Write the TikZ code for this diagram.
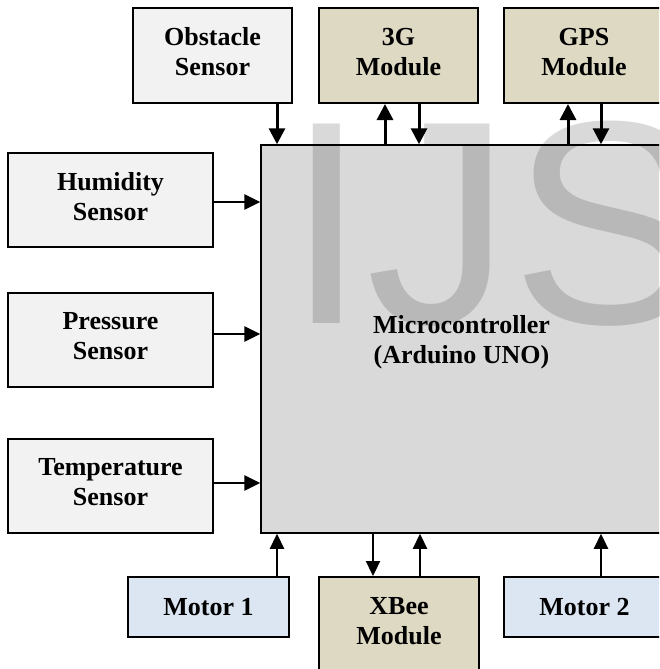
\documentclass[tikz,border=0pt]{standalone}
\usepackage{fontspec}
\setmainfont{Liberation Serif}
\newfontfamily\wmfont{Liberation Sans}
\usetikzlibrary{arrows.meta}
\definecolor{boxgray}{HTML}{F2F2F2}
\definecolor{boxtan}{HTML}{DDD9C3}
\definecolor{boxblue}{HTML}{DCE6F2}
\definecolor{mcgray}{HTML}{D9D9D9}
\tikzset{
  blk/.style={draw=black, line width=2pt, rectangle, align=center, inner sep=0pt,
    font=\bfseries\fontsize{26}{30}\selectfont, text depth=8pt},
  blk1/.style={draw=black, line width=2pt, rectangle, align=center, inner sep=0pt,
    font=\bfseries\fontsize{26}{30}\selectfont},
  arrT/.style={line width=3pt, -{Triangle[length=16pt,width=16pt]}},
  arrL/.style={line width=2.7pt, -{Triangle[length=16pt,width=15pt]}},
  arrB/.style={line width=2.3pt, -{Triangle[length=15pt,width=14pt]}}
}
\begin{document}
\begin{tikzpicture}[x=1pt,y=-1pt]
\useasboundingbox (0,0) rectangle (659,669);
\clip (0,0) rectangle (659,669);
\fill[white] (0,0) rectangle (659,669);
% top row
\node[blk, fill=boxgray, minimum width=159pt, minimum height=95pt] (obs) at (212.5,55.5) {Obstacle\\Sensor};
\node[blk, fill=boxtan, minimum width=159pt, minimum height=95pt] (g3) at (398.5,55.5) {3G\\Module};
\node[blk, fill=boxtan, minimum width=160pt, minimum height=95pt] (gps) at (584,55.5) {GPS\\Module};
% left column
\node[blk, fill=boxgray, minimum width=205pt, minimum height=94pt] (hum) at (110.5,200) {Humidity\\Sensor};
\node[blk, fill=boxgray, minimum width=205pt, minimum height=94pt] (pre) at (110.5,340) {Pressure\\Sensor};
\node[blk, fill=boxgray, minimum width=205pt, minimum height=94pt] (tem) at (110.5,486) {Temperature\\Sensor};
% microcontroller
\node[blk, line width=1.5pt, fill=mcgray, minimum width=401pt, minimum height=388pt, text depth=0pt] (mc) at (461.5,339) {Microcontroller\\(Arduino UNO)};
% bottom row
\node[blk1, fill=boxblue, minimum width=161pt, minimum height=60pt] (m1) at (208.5,607) {Motor 1};
\node[blk, fill=boxtan, minimum width=160pt, minimum height=95pt] (xb) at (399,624.5) {XBee\\Module};
\node[blk1, fill=boxblue, minimum width=161pt, minimum height=60pt] (m2) at (584.5,607) {Motor 2};
% top arrows
\draw[arrT] (277,0 |- obs.south) -- (277,0 |- mc.north);
\draw[arrT] (385,0 |- mc.north) -- (385,0 |- g3.south);
\draw[arrT] (419,0 |- g3.south) -- (419,0 |- mc.north);
\draw[arrT] (568,0 |- mc.north) -- (568,0 |- gps.south);
\draw[arrT] (601,0 |- gps.south) -- (601,0 |- mc.north);
% left arrows
\draw[arrL] (hum.east |- 0,202) -- (mc.west |- 0,202);
\draw[arrL] (pre.east |- 0,334) -- (mc.west |- 0,334);
\draw[arrL] (tem.east |- 0,483) -- (mc.west |- 0,483);
% bottom arrows
\draw[arrB] (277,0 |- m1.north) -- (277,0 |- mc.south);
\draw[arrB] (373,0 |- mc.south) -- (373,0 |- xb.north);
\draw[arrB] (420,0 |- xb.north) -- (420,0 |- mc.south);
\draw[arrB] (601,0 |- m2.north) -- (601,0 |- mc.south);
% watermark
\node[anchor=base west, inner sep=0pt, text=black, text opacity=0.15,
  font=\wmfont\fontsize{290}{290}\selectfont] (wm) at (286,323) {IJS};
\end{tikzpicture}
\end{document}
